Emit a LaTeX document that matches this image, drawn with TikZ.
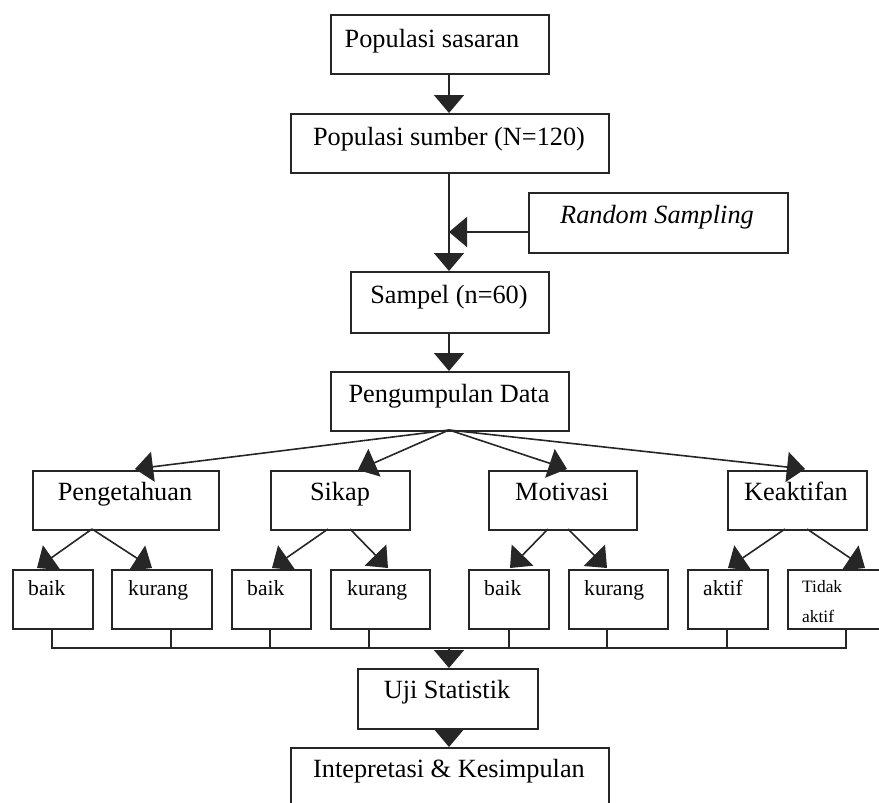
\documentclass[tikz,border=0pt]{standalone}
\usepackage{fontspec}
\setmainfont{Liberation Serif}
\usetikzlibrary{arrows.meta}
\begin{document}
\begin{tikzpicture}[x=1pt,y=-1pt,
  ln/.style={draw=black!85, line width=1.6pt},
  boxnode/.style={ln, rectangle, inner sep=0pt, anchor=north west},
  txt/.style={inner sep=0pt, anchor=base, font=\fontsize{26.3}{30}\selectfont},
  subtxt/.style={inner sep=0pt, anchor=base west, font=\fontsize{21.6}{26}\selectfont},
  smalltxt/.style={inner sep=0pt, anchor=base west, font=\fontsize{17.4}{20}\selectfont},
  arr/.style={ln, -{Triangle[length=18pt,width=30pt]}, shorten >=0pt}
]
\useasboundingbox (0,0) rectangle (879,803);
\clip (0,0) rectangle (879,803);
% helper macro for boxes: name, x1, y1, x2, y2
\newcommand\mybox[5]{\node[boxnode, minimum width={#4-#2}, minimum height={#5-#3}] (#1) at (#2,#3) {};}
\mybox{pop1}{330}{14}{548}{73}
\mybox{pop2}{290}{113}{608}{172}
\mybox{rs}{528}{192}{787}{252}
\mybox{samp}{350}{271}{548}{332}
\mybox{peng}{330}{371}{568}{430}
\mybox{g1}{32}{470}{218}{529}
\mybox{g2}{270}{470}{409}{529}
\mybox{g3}{488}{470}{636}{529}
\mybox{g4}{727}{470}{866}{529}
\mybox{s1}{12}{569}{92}{628}
\mybox{s2}{111}{569}{211}{628}
\mybox{s3}{231}{569}{310}{628}
\mybox{s4}{330}{569}{429}{628}
\mybox{s5}{468}{569}{548}{628}
\mybox{s6}{568}{569}{667}{628}
\mybox{s7}{687}{569}{767}{628}
\mybox{s8}{787}{569}{895}{628}
\mybox{uji}{357}{668}{537}{728}
\mybox{intp}{290}{747}{608}{830}
% texts
\node[txt] (tpop1) at (432,47) {Populasi sasaran};
\node[txt] (tpop2) at (449,145) {Populasi sumber (N=120)};
\node[txt] (trs) at (657,223) {\itshape Random Sampling};
\node[txt] (tsamp) at (449,303) {Sampel (n=60)};
\node[txt] (tpeng) at (449,402) {Pengumpulan Data};
\node[txt] (tg1) at (125,500) {Pengetahuan};
\node[txt] (tg2) at (340,500) {Sikap};
\node[txt] (tg3) at (562,500) {Motivasi};
\node[txt] (tg4) at (796,500) {Keaktifan};
\node[subtxt] (ts1) at (28,595) {baik};
\node[subtxt] (ts2) at (128,595) {kurang};
\node[subtxt] (ts3) at (247,595) {baik};
\node[subtxt] (ts4) at (347,595) {kurang};
\node[subtxt] (ts5) at (484,595) {baik};
\node[subtxt] (ts6) at (584,595) {kurang};
\node[subtxt] (ts7) at (703,595) {aktif};
\node[smalltxt] (ts8a) at (802,592) {Tidak};
\node[smalltxt] (ts8b) at (802,622) {aktif};
\node[txt] (tuji) at (447,698) {Uji Statistik};
\node[txt] (tintp) at (449,777) {Intepretasi \& Kesimpulan};
% connectors
\coordinate (rsj) at (449,232);
\coordinate (pc) at (449,430);
\draw[arr] (pop1.south -| rsj) -- (pop2.north -| rsj);
\draw[arr] (pop2.south -| rsj) -- (samp.north -| rsj);
\draw[arr] (rs.west |- rsj) -- (rsj);
\draw[arr] (samp.south -| rsj) -- (peng.north -| rsj);
% fan-out to groups
\coordinate (e1) at (135,469);
\coordinate (e2) at (358,470);
\coordinate (e3) at (567,469);
\coordinate (e4) at (805,469);
\draw[arr] (pc) -- (e1);
\draw[arr] (pc) -- (e2);
\draw[arr] (pc) -- (e3);
\draw[arr] (pc) -- (e4);
% group to sub
\coordinate (a1) at (92,529);
\coordinate (a2) at (328,529);
\coordinate (a3) at (350,529);
\coordinate (a4) at (548,529);
\coordinate (a5) at (568,529);
\coordinate (a6) at (785,529);
\coordinate (a7) at (807,529);
\draw[arr] (a1) -- (37,568);
\draw[arr] (a1) -- (152,568);
\draw[arr] (a2) -- (272,568);
\draw[arr] (a3) -- (388,568);
\draw[arr] (a4) -- (510,568);
\draw[arr] (a5) -- (607,568);
\draw[arr] (a6) -- (728,568);
\draw[arr] (a7) -- (865,568);
% collect
\coordinate (hl) at (52,648);
\coordinate (hr) at (846,648);
\draw[ln] (s1.south -| hl) -- (hl) -- (hr) -- (s8.south -| hr);
\foreach \xx/\nn in {171/s2,270/s3,369/s4,509/s5,607/s6,727/s7}{
  \draw[ln] (\nn.south -| {(\xx,0)}) -- (\xx,648);
}
\coordinate (hc) at (449,648);
\draw[arr] (hc) -- (uji.north -| hc);
\draw[arr] (uji.south -| hc) -- (intp.north -| hc);
\end{tikzpicture}
\end{document}
